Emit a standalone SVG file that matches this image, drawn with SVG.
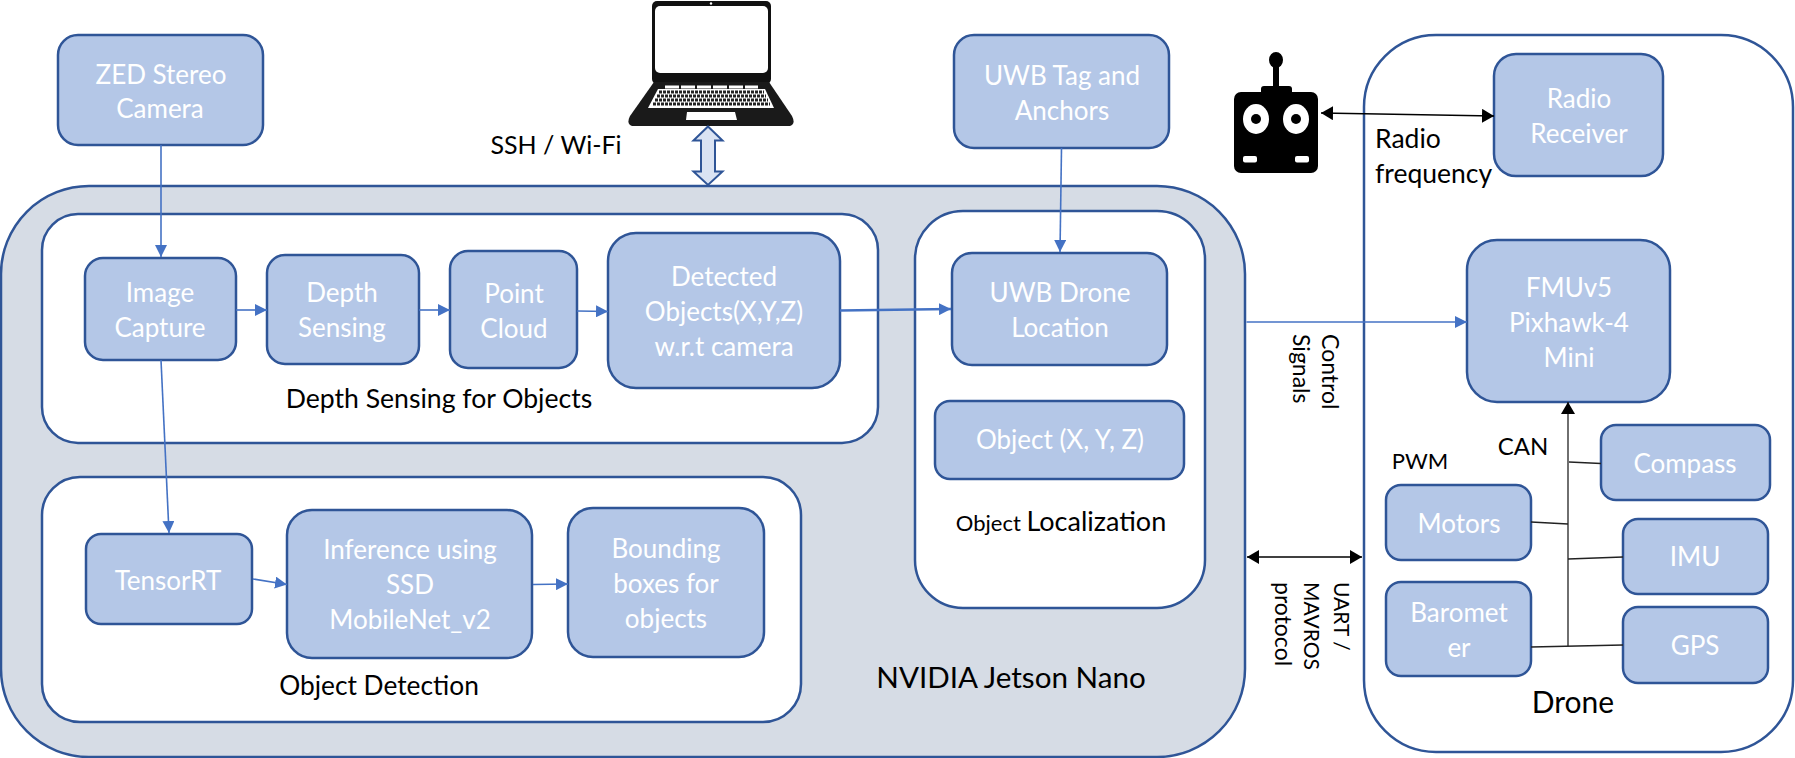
<svg xmlns="http://www.w3.org/2000/svg" width="1795" height="758" viewBox="0 0 1795 758">
<style>
text{font-family:"Lato","Open Sans","Liberation Sans",sans-serif;text-anchor:middle}
.n{fill:#b4c7e7;stroke:#2f5597;stroke-width:2.5}
.g{fill:#fff;stroke:#2f5597;stroke-width:2.5}
.w{fill:#fff;font-size:26px}
.k{fill:#000;font-size:26px}
.b{fill:none;stroke:#4472c4;stroke-width:1.6;marker-end:url(#ab)}
.l{fill:none;stroke:#222;stroke-width:1.3}
.d{fill:none;stroke:#000;stroke-width:1.5;marker-end:url(#ak);marker-start:url(#ak)}
</style>
<defs>
<marker id="ab" markerUnits="userSpaceOnUse" markerWidth="13" markerHeight="12" refX="12" refY="6" orient="auto"><path d="M0 0L12 6L0 12Z" fill="#4472c4"/></marker>
<marker id="ak" markerUnits="userSpaceOnUse" markerWidth="13" markerHeight="14" refX="12" refY="7" orient="auto-start-reverse"><path d="M0 0L12 7L0 14Z" fill="#000"/></marker>
</defs>
<rect width="1795" height="758" fill="#fff"/>
<g id="jetson"><rect x="1" y="186" width="1244" height="571" rx="88" ry="88" fill="#d6dce5" stroke="#2f5597" stroke-width="2.5"/><text class="k" x="1011" y="688" style="font-size:29.6px">NVIDIA Jetson Nano</text></g>
<g id="drone"><rect class="g" x="1364" y="35" width="429" height="717" rx="72" ry="72"/><text class="k" x="1573" y="713" style="font-size:30px">Drone</text></g>
<g id="depth-group"><rect class="g" x="42" y="214" width="836" height="229" rx="36" ry="36"/><text class="k" x="439" y="408" style="font-size:26.6px">Depth Sensing for Objects</text></g>
<g id="detection-group"><rect class="g" x="42" y="477" width="759" height="245" rx="38" ry="38"/><text class="k" x="379" y="695" style="font-size:26.3px">Object Detection</text></g>
<g id="localization-group"><rect class="g" x="915" y="211" width="290" height="397" rx="48" ry="48"/><text class="k" x="1061" y="531" style="font-size:27px"><tspan style="font-size:22px">Object </tspan>Localization</text></g>
<g id="zed"><rect class="n" x="58" y="35" width="205" height="110" rx="20"/><text class="w" x="161" y="84">ZED Stereo</text><text class="w" x="160" y="118">Camera</text></g>
<g id="uwb-tag"><rect class="n" x="954" y="35" width="215" height="113" rx="20"/><text class="w" x="1062" y="85">UWB Tag and</text><text class="w" x="1062" y="120">Anchors</text></g>
<g id="image-capture"><rect class="n" x="85" y="258" width="151" height="102" rx="18"/><text class="w" x="160" y="302">Image</text><text class="w" x="160" y="337">Capture</text></g>
<g id="depth-sensing"><rect class="n" x="267" y="255" width="152" height="109" rx="18"/><text class="w" x="342" y="302">Depth</text><text class="w" x="342" y="337">Sensing</text></g>
<g id="point-cloud"><rect class="n" x="450" y="251" width="127" height="117" rx="18"/><text class="w" x="514" y="303">Point</text><text class="w" x="514" y="338">Cloud</text></g>
<g id="detected"><rect class="n" x="608" y="233" width="232" height="155" rx="28"/><text class="w" x="724" y="286">Detected</text><text class="w" x="724" y="321">Objects(X,Y,Z)</text><text class="w" x="724" y="356">w.r.t camera</text></g>
<g id="uwb-location"><rect class="n" x="952" y="253" width="215" height="112" rx="20"/><text class="w" x="1060" y="302">UWB Drone</text><text class="w" x="1060" y="337">Location</text></g>
<g id="object-xyz"><rect class="n" x="935" y="401" width="249" height="78" rx="15"/><text class="w" x="1060" y="449">Object (X, Y, Z)</text></g>
<g id="tensorrt"><rect class="n" x="86" y="534" width="166" height="90" rx="15"/><text class="w" x="168" y="590">TensorRT</text></g>
<g id="inference"><rect class="n" x="287" y="510" width="245" height="148" rx="25"/><text class="w" x="410" y="559">Inference using</text><text class="w" x="410" y="594">SSD</text><text class="w" x="410" y="629">MobileNet_v2</text></g>
<g id="bounding"><rect class="n" x="568" y="508" width="196" height="149" rx="25"/><text class="w" x="666" y="558">Bounding</text><text class="w" x="666" y="593">boxes for</text><text class="w" x="666" y="628">objects</text></g>
<g id="radio-receiver"><rect class="n" x="1494" y="54" width="169" height="122" rx="22"/><text class="w" x="1579" y="108">Radio</text><text class="w" x="1579" y="143">Receiver</text></g>
<g id="fmu"><rect class="n" x="1467" y="240" width="203" height="162" rx="30"/><text class="w" x="1569" y="297">FMUv5</text><text class="w" x="1569" y="332">Pixhawk-4</text><text class="w" x="1569" y="367">Mini</text></g>
<g id="compass"><rect class="n" x="1601" y="425" width="169" height="75" rx="15"/><text class="w" x="1685" y="473">Compass</text></g>
<g id="motors"><rect class="n" x="1386" y="485" width="145" height="75" rx="15"/><text class="w" x="1459" y="533">Motors</text></g>
<g id="imu"><rect class="n" x="1623" y="519" width="145" height="75" rx="15"/><text class="w" x="1695" y="566">IMU</text></g>
<g id="barometer"><rect class="n" x="1386" y="582" width="145" height="94" rx="15"/><text class="w" x="1459" y="622">Baromet</text><text class="w" x="1459" y="657">er</text></g>
<g id="gps"><rect class="n" x="1623" y="607" width="145" height="76" rx="15"/><text class="w" x="1695" y="655">GPS</text></g>
<g id="laptop">
<rect x="652" y="1" width="119" height="83" rx="5" fill="#111"/>
<rect x="655" y="6" width="113" height="67" rx="5" fill="#fff"/>
<path d="M654 82H769L792 116Q796 124 790 126H632Q626 124 630 116Z" fill="#1a1a1a"/>
<path d="M658 89H765L774 108H648Z" fill="#fff"/>
<path d="M665 87H758" stroke="#fff" stroke-width="3" stroke-dasharray="14 2" fill="none"/>
<path d="M659 92H764M657 96H766M655 100H768M653 104H770" stroke="#222" stroke-width="3" stroke-dasharray="3 1" fill="none"/>
<path d="M687 112H735L737 120H686Z" fill="#fff"/>
<circle cx="711" cy="3.500" r="1.200" fill="#fff"/>
</g>
<g id="remote">
<ellipse cx="1276" cy="60" rx="7" ry="8" fill="#000"/>
<rect x="1273" y="60" width="6" height="30" fill="#000"/>
<rect x="1261" y="86" width="31" height="12" rx="3" fill="#000"/>
<rect x="1234" y="92" width="84" height="81" rx="7" fill="#000"/>
<ellipse cx="1256" cy="119" rx="13" ry="15" fill="#fff"/><circle cx="1256" cy="119" r="5" fill="#000"/>
<ellipse cx="1296" cy="119" rx="13" ry="15" fill="#fff"/><circle cx="1296" cy="119" r="5" fill="#000"/>
<rect x="1243" y="156" width="14" height="6.500" rx="2" fill="#fff"/><rect x="1295" y="156" width="14" height="6.500" rx="2" fill="#fff"/>
</g>
<g id="connectors">
<path class="b" d="M161 145V257"/>
<path class="b" d="M236 310H267"/>
<path class="b" d="M419 310H450"/>
<path class="b" d="M577 311L608 311.500"/>
<path class="b" style="stroke-width:2.400" d="M840 310.500L951 309"/>
<path class="b" d="M1061.500 148L1060 252"/>
<path class="b" d="M161 360L169 533"/>
<path class="b" d="M253 579L287 584.500"/>
<path class="b" d="M533 584.500L568 584"/>
<path class="b" d="M1246.500 322H1467"/>
<path class="d" d="M1321 113L1494 116"/>
<path class="d" d="M1247 557H1362"/>
<path d="M1568 646V402" fill="none" stroke="#222" stroke-width="1.300" marker-end="url(#ak)"/>
<path class="l" d="M1569 462L1601 463.500"/>
<path class="l" d="M1531 522L1568 524"/>
<path class="l" d="M1568 559L1623 557"/>
<path class="l" d="M1531 647L1623 645"/>
<path d="M708 126.500L722.500 140.500H715V171.500H722.500L708 185L693.500 171.500H701V140.500H693.500Z" fill="#dae3f3" stroke="#2f5597" stroke-width="2"/>
</g>
<g id="labels">
<text class="k" x="556" y="154" style="font-size:25px">SSH / Wi-Fi</text>
<text class="k" x="1375" y="148" style="text-anchor:start;font-size:26.5px">Radio</text>
<text class="k" x="1375" y="183" style="text-anchor:start;font-size:26.5px">frequency</text>
<text class="k" x="1420" y="469" style="font-size:22px">PWM</text>
<text class="k" x="1523" y="455" style="font-size:24px">CAN</text>
<text class="k" style="text-anchor:start;font-size:23px" transform="translate(1322 334) rotate(90)">Control</text>
<text class="k" style="text-anchor:start;font-size:23px" transform="translate(1293 334) rotate(90)">Signals</text>
<text class="k" style="text-anchor:start;font-size:21px" transform="translate(1334 582) rotate(90)">UART /</text>
<text class="k" style="text-anchor:start;font-size:21px" transform="translate(1304 582) rotate(90)">MAVROS</text>
<text class="k" style="text-anchor:start;font-size:23px" transform="translate(1275 582) rotate(90)">protocol</text>
</g>
</svg>
